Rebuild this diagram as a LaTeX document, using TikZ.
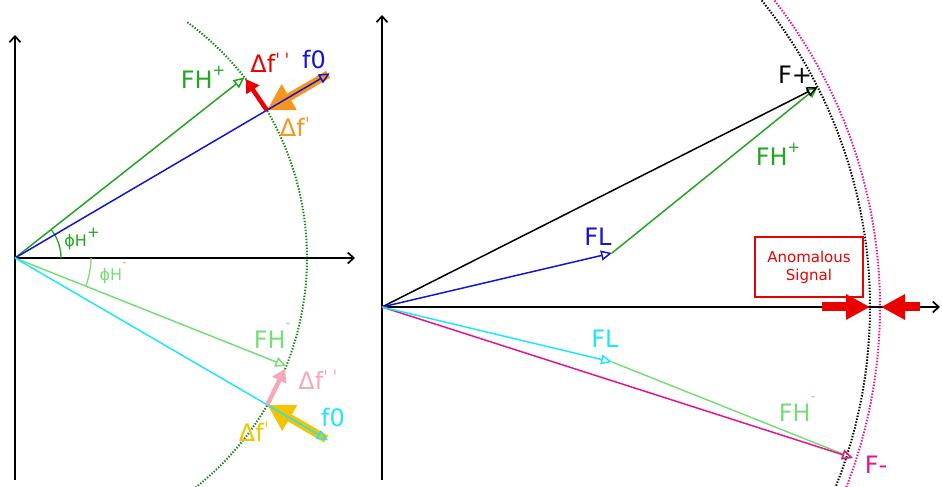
\documentclass[tikz,border=0pt]{standalone}
\usepackage{fontspec}
\setmainfont{DejaVu Sans}
\usetikzlibrary{arrows.meta}
\definecolor{cgreen}{RGB}{34,165,34}
\definecolor{cdot}{RGB}{25,135,25}
\definecolor{cblue}{RGB}{20,20,210}
\definecolor{cred}{RGB}{235,0,0}
\definecolor{corange}{RGB}{245,150,30}
\definecolor{ccyan}{RGB}{30,230,250}
\definecolor{clgreen}{RGB}{120,220,120}
\definecolor{cpink}{RGB}{245,168,185}
\definecolor{cgold}{RGB}{245,195,0}
\definecolor{cmag}{RGB}{230,20,140}
\newcommand\supp[1]{\raisebox{0.55em}{\fontsize{15}{15}\selectfont #1}}
\newcommand\supm{\raisebox{0.85em}{\fontsize{12}{12}\selectfont -}}
\newcommand\tick{\raisebox{0.2em}{\fontsize{19}{19}\selectfont ˈ}}
\begin{document}
\begin{tikzpicture}[x=1pt,y=1pt,
  axis/.style={line width=1.7pt,-{Straight Barb[length=6pt,width=11pt]}},
  vec/.style={line width=1.5pt,-{Triangle[open,length=11pt,width=10pt]}},
  bigarrow/.style={line width=8pt,-{Triangle[length=26pt,width=28pt]}},
  midarrow/.style={line width=4.5pt,-{Triangle[length=13pt,width=15pt]}},
  anomarrow/.style={line width=9pt,cred,-{Triangle[length=24pt,width=24pt]}},
  dotarc/.style={line width=2pt,dash pattern=on 1.4pt off 1.6pt},
  lbl/.style={font=\fontsize{24}{24}\selectfont,inner sep=0pt},
  slbl/.style={font=\fontsize{16}{16}\selectfont,inner sep=0pt}]
\useasboundingbox (0,0) rectangle (942,487);
\clip (0,0) rectangle (942,487);

% ---------------- left panel ----------------
\begin{scope}[shift={(15,229)}]
  \coordinate (O1) at (0,0);
  \coordinate (LvB) at (0,-222);
  \coordinate (LvT) at (0,223);
  \coordinate (LhE) at (340,0);
  \coordinate (FHp) at (38.2:292);
  \coordinate (f0p) at (30.4:365);
  \coordinate (Pp) at (30.4:292);
  \coordinate (FHm) at (-21.7:292);
  \coordinate (f0m) at (-30.2:362);
  \coordinate (Pm) at (-30.2:292);
  \draw[dotarc,cdot] (O1) ++(-53:292) arc[start angle=-53,end angle=54,radius=292];
  \draw[axis] (LvB) -- (LvT);
  \draw[axis] (O1) -- (LhE);
  % angle arcs
  \draw[cgreen,line width=1.3pt] (O1) ++(0:46) arc[start angle=0,end angle=38.2,radius=46];
  \draw[clgreen,line width=1.3pt] (O1) ++(0:76) arc[start angle=0,end angle=-21.7,radius=76];
  % thick arrows under the lines
  \draw[bigarrow,corange,shorten <=2pt] (f0p) -- (Pp);
  \draw[bigarrow,cgold,shorten <=2pt] (f0m) -- (Pm);
  % vectors
  \draw[vec,cgreen] (O1) -- (FHp);
  \draw[vec,cblue] (O1) -- (f0p);
  \draw[vec,clgreen] (O1) -- (FHm);
  \draw[vec,ccyan] (O1) -- (f0m);
  \draw[midarrow,cred,shorten >=2pt] (Pp) -- (FHp);
  \draw[midarrow,cpink,shorten >=3pt] (Pm) -- (FHm);
\end{scope}
\node[lbl,cgreen] (tFHp) at (203,410) {FH\supp{+}};
\node[lbl,cred] (tdfpp) at (270,424) {Δf\tick\,\tick};
\node[lbl,cblue] (tf0p) at (314,427) {f0};
\node[lbl,corange] (tdfp) at (295,360) {Δf\tick};
\node[slbl,cgreen] (tphip) at (82,248) {ϕH\supp{+}};
\node[slbl,clgreen] (tphim) at (113,214) {ϕH\supm};
\node[lbl,clgreen] (tFHm) at (272,151) {FH\supm};
\node[lbl,cpink] (tdfpm) at (318,107) {Δf\tick\,\tick};
\node[lbl,ccyan] (tf0m) at (333,69) {f0};
\node[lbl,cgold] (tdfm) at (254,55) {Δf\tick};

% ---------------- right panel ----------------
\begin{scope}[shift={(382,180)}]
  \coordinate (O2) at (0,0);
  \coordinate (RvB) at (0,-173);
  \coordinate (RvT) at (0,292);
  \coordinate (RhE) at (558,0);
  \coordinate (Fp) at (26.8:488);
  \coordinate (FLp) at (230,54);
  \coordinate (FLm) at (230,-55);
  \coordinate (Fm) at (471,-151);
  \coordinate (A1s) at (440,0);
  \coordinate (A1e) at (488,0);
  \coordinate (A2s) at (538,0);
  \coordinate (A2e) at (499,0);
  \draw[dotarc,black] (O2) ++(-25:488) arc[start angle=-25,end angle=42,radius=488];
  \draw[dotarc,cmag] (O2) ++(-25:498) arc[start angle=-25,end angle=42,radius=498];
  \draw[axis] (RvB) -- (RvT);
  \draw[axis] (O2) -- (RhE);
  \draw[vec,cgreen] (FLp) -- (Fp);
  \draw[vec,black] (O2) -- (Fp);
  \draw[vec,cblue] (O2) -- (FLp);
  \draw[vec,clgreen] (FLm) -- (Fm);
  \draw[vec,cmag] (O2) -- (Fm);
  \draw[vec,ccyan] (O2) -- (FLm);
  \draw[anomarrow] (A1s) -- (A1e);
  \draw[anomarrow] (A2s) -- (A2e);
\end{scope}
\node[lbl,black] (tFp) at (795,412) {F+};
\node[lbl,cgreen] (tFHpR) at (778,333) {FH\supp{+}};
\node[lbl,cblue] (tFLp) at (598,250) {FL};
\node[lbl,ccyan] (tFLm) at (605,148) {FL};
\node[lbl,clgreen] (tFHmR) at (797,78) {FH\supm};
\node[lbl,cmag] (tFm) at (876,22) {F-};
\node[draw=cred,line width=1.3pt,text=cred,minimum width=108pt,minimum height=60pt,
  align=center,inner sep=0pt,font=\fontsize{15}{18}\selectfont] (box) at (809,220) {Anomalous\\Signal};
\end{tikzpicture}
\end{document}
